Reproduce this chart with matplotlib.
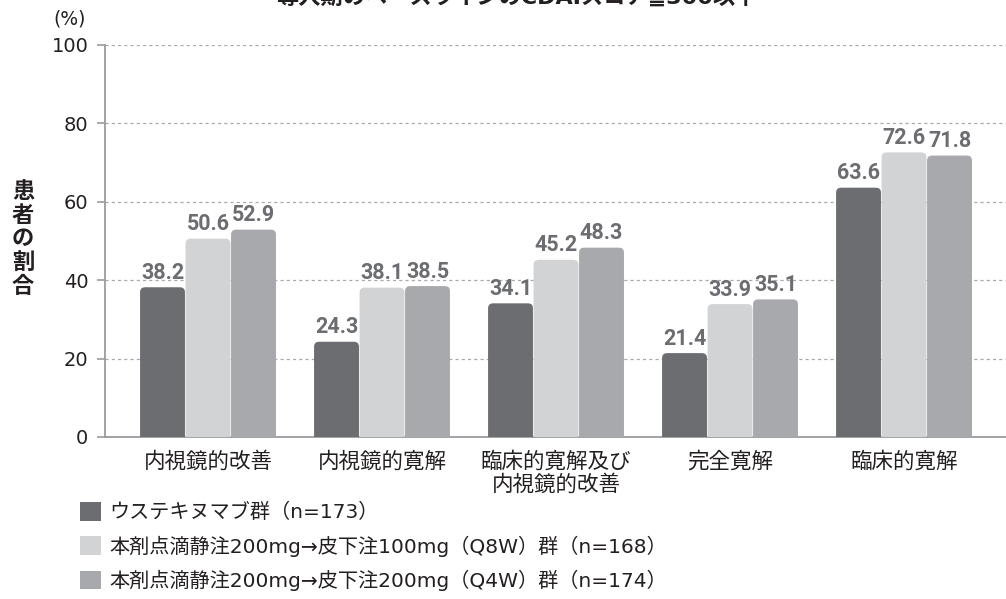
import matplotlib
matplotlib.use("Agg")
import matplotlib.pyplot as plt
from matplotlib.patches import FancyBboxPatch, Patch
import numpy as np

FONT = ['DejaVu Sans', 'Noto Sans CJK JP']
plt.rcParams['font.family'] = FONT

categories = ["内視鏡的改善", "内視鏡的寛解", "臨床的寛解及び\n内視鏡的改善", "完全寛解", "臨床的寛解"]
series_names = ["ウステキヌマブ群（n=173）",
                "本剤点滴静注200mg→皮下注100mg（Q8W）群（n=168）",
                "本剤点滴静注200mg→皮下注200mg（Q4W）群（n=174）"]
ustekinumab = [38.2, 24.3, 34.1, 21.4, 63.6]
q8w = [50.6, 38.1, 45.2, 33.9, 72.6]
q4w = [52.9, 38.5, 48.3, 35.1, 71.8]
yticks = [0, 20, 40, 60, 80, 100]
title = "導入期のベースラインのCDAIスコア≦300以下"
ylabel_text = "患者の割合"

colors = ["#6c6d71", "#d2d3d5", "#a8a9ad"]
label_color = "#6c6d71"
text_color = "#231f20"

fig = plt.figure(figsize=(10.06, 5.99), dpi=100)
ax = fig.add_axes([105/1006, 1-437/599, 901/1006, (437-45)/599])

x = np.arange(len(categories))
width = 0.258
offsets = [-0.2615, 0.0, 0.2615]
all_series = [ustekinumab, q8w, q4w]

ax.set_xlim(-0.592, 4.586)
ax.set_ylim(0, 100)

px_per_x = 174
px_per_y = 3.92
rad_x = 5/px_per_x
rad_y = 5/px_per_y
for s, (vals, col, off) in enumerate(zip(all_series, colors, offsets)):
    bars = ax.bar(x + off, vals, width=width, color=col, zorder=3, label=series_names[s])
    for b, v in zip(bars, vals):
        b.set_visible(False)
        bx, bw, bh = b.get_x(), b.get_width(), b.get_height()
        p = FancyBboxPatch((bx, -3), bw, bh + 3,
                           boxstyle=f"round,pad=0,rounding_size={rad_x}",
                           mutation_aspect=rad_y/rad_x,
                           facecolor=col, edgecolor='none', zorder=3, clip_on=True)
        ax.add_patch(p)
        ax.annotate(f"{v:.1f}", (bx + bw/2, bh), xytext=(0, 2.5), textcoords='offset points',
                    ha='center', va='bottom', fontsize=15.5, fontweight='bold',
                    color=label_color, family=['Roboto', 'DejaVu Sans'], zorder=4)

ax.set_yticks(yticks)
ax.set_yticklabels([str(t) for t in yticks], fontsize=14, color=text_color)
ax.set_xticks(x)
ax.set_xticklabels(categories, fontsize=15.5, color=text_color, linespacing=1.06,
                   family=['Noto Sans CJK JP'])
ax.tick_params(axis='x', length=0, pad=10)
ax.tick_params(axis='y', length=6, width=1.2, color="#9a9b9e", pad=6)
ax.yaxis.grid(True, linestyle=(0, (2.5, 2.5)), color="#a8a9ac", linewidth=0.9, zorder=0)
ax.set_axisbelow(True)
for sp in ['top', 'right']:
    ax.spines[sp].set_visible(False)
for sp in ['left', 'bottom']:
    ax.spines[sp].set_color("#9a9b9e")
    ax.spines[sp].set_linewidth(1.3)

fig.text(70/1006, 1-19/599, "(%)", fontsize=13.5, color=text_color, ha='center', va='center')
fig.text(23/1006, 1-239/599, "\n".join(ylabel_text), fontsize=16, fontweight='bold',
         color="#231f20", ha='center', va='center', linespacing=1.03,
         family=['Noto Sans CJK JP'])
fig.text(517/1006, 1-9/599, title, fontsize=16, fontweight='bold', color="#231f20",
         ha='center', va='bottom')

handles = [Patch(facecolor=c, edgecolor='none') for c in colors]
fig.legend(handles, series_names, loc='upper left', bbox_to_anchor=(80/1006, 1-502/599),
           frameon=False, fontsize=14.5, handlelength=1.05, handleheight=1.05,
           handletextpad=0.4, labelspacing=0.65, borderaxespad=0, borderpad=0,
           labelcolor=text_color)

fig.savefig("out.png", dpi=100)
